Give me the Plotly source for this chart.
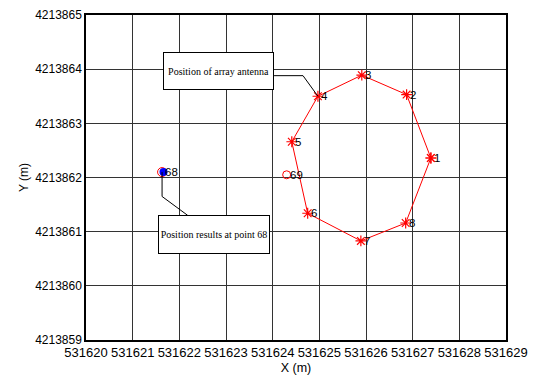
import plotly.graph_objects as go

# Array antenna positions (points 1..8)
ant_ids = ["1", "2", "3", "4", "5", "6", "7", "8"]
ant_x = [531627.39, 531626.87, 531625.91, 531624.97, 531624.41, 531624.75, 531625.89, 531626.85]
ant_y = [4213862.36, 4213863.53, 4213863.89, 4213863.50, 4213862.66, 4213861.34, 4213860.83, 4213861.16]

# Position results
p69_x, p69_y = [531624.30], [4213862.05]
p68_x, p68_y = [531621.63], [4213862.10]

x_ticks = [531620, 531621, 531622, 531623, 531624, 531625, 531626, 531627, 531628, 531629]
y_ticks = [4213859, 4213860, 4213861, 4213862, 4213863, 4213864, 4213865]

lbl_font = dict(family="Liberation Sans, Arial", size=11.5, color="black")

fig = go.Figure()

# closed octagon
fig.add_trace(go.Scatter(
    x=ant_x + ant_x[:1], y=ant_y + ant_y[:1], mode="lines+markers",
    line=dict(color="red", width=1),
    marker=dict(symbol="asterisk-open", size=9, color="red", line=dict(color="red", width=1.2)),
    hoverinfo="skip", showlegend=False))

# point 69
fig.add_trace(go.Scatter(
    x=p69_x, y=p69_y, mode="markers",
    marker=dict(symbol="circle-open", size=8, color="red", line=dict(color="red", width=1)),
    showlegend=False, hoverinfo="skip"))

# point 68
fig.add_trace(go.Scatter(
    x=p68_x, y=p68_y, mode="markers", marker=dict(symbol="circle-open", size=9, color="red"),
    showlegend=False, hoverinfo="skip"))
fig.add_trace(go.Scatter(
    x=[v + 0.03 for v in p68_x], y=p68_y, mode="markers",
    marker=dict(symbol="circle", size=8, color="blue"),
    showlegend=False, hoverinfo="skip"))

# connector lines
fig.add_trace(go.Scatter(
    x=[531624.03, 531624.65, ant_x[3]], y=[4213863.88, 4213863.88, ant_y[3]],
    mode="lines", line=dict(color="black", width=1), showlegend=False, hoverinfo="skip"))
fig.add_trace(go.Scatter(
    x=[p68_x[0], p68_x[0], 531622.18], y=[p68_y[0], 4213861.65, 4213861.30],
    mode="lines", line=dict(color="black", width=1), showlegend=False, hoverinfo="skip"))

# point labels
for px, py, t in zip(ant_x + p69_x + p68_x, ant_y + p69_y + p68_y, ant_ids + ["69", "68"]):
    fig.add_annotation(x=px, y=py, xref="x", yref="y", text=t, showarrow=False, font=lbl_font,
                       xanchor="left", yanchor="middle", xshift=1, yshift=0)

box_font = dict(family="Liberation Serif, Times New Roman", size=10, color="black")
fig.add_annotation(x=531622.84, y=4213863.97, xref="x", yref="y", text="Position of array antenna",
                   showarrow=False, font=box_font, bgcolor="white", bordercolor="black",
                   borderwidth=1, borderpad=0, width=109, height=36, xanchor="center", yanchor="middle")
fig.add_annotation(x=531622.74, y=4213860.95, xref="x", yref="y", text="Position results at point 68",
                   showarrow=False, font=box_font, bgcolor="white", bordercolor="black",
                   borderwidth=1, borderpad=0, width=110, height=37, xanchor="center", yanchor="middle")

axis_common = dict(showgrid=True, gridcolor="#333333", gridwidth=1, showline=True, linecolor="black",
                   linewidth=1.5, mirror=True, ticks="", zeroline=False, automargin=False,
                   ticklabeloverflow="allow")
fig.update_xaxes(range=[531620, 531629], tickvals=x_ticks, ticktext=[str(v) for v in x_ticks],
                 tickangle=0, tickfont=dict(family="Liberation Sans, Arial", size=13, color="black"),
                 title=dict(text="X (m)", font=dict(family="Liberation Sans, Arial", size=12.5, color="black"),
                            standoff=4), **axis_common)
fig.update_yaxes(range=[4213859, 4213865], tickvals=y_ticks, ticktext=[str(v) for v in y_ticks],
                 tickfont=dict(family="Liberation Sans, Arial", size=12, color="black"),
                 title=dict(text="Y (m)", font=dict(family="Liberation Sans, Arial", size=12, color="black"),
                            standoff=4), **axis_common)

fig.update_layout(width=528, height=370, margin=dict(l=78, r=30, t=7, b=38),
                  plot_bgcolor="white", paper_bgcolor="white")

fig.write_html("out.html")
